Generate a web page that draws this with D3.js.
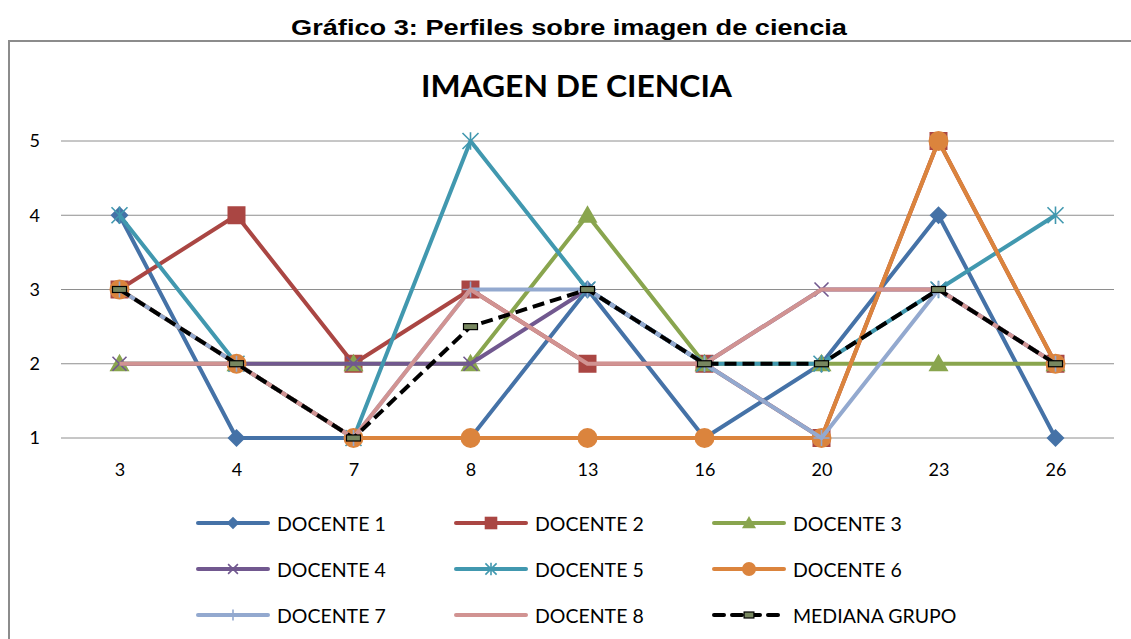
<!DOCTYPE html>
<html>
<head>
<meta charset="utf-8">
<script src="https://cdn.jsdelivr.net/npm/d3@7"></script>
<style>
  body { margin: 0; background: #fff; }
  svg { display: block; }
</style>
</head>
<body>
<div id="container"></div>
<script>
// categories and values
const categories = ["3", "4", "7", "8", "13", "16", "20", "23", "26"];
const yTicks = [1, 2, 3, 4, 5];

const docente1 = [4, 1, 1, 1, 3, 1, 2, 4, 1];
const docente2 = [3, 4, 2, 3, 2, 2, 1, 5, 2];
const docente3 = [2, 2, 2, 2, 4, 2, 2, 2, 2];
const docente4 = [2, 2, 2, 2, 3, 2, 3, 3, 2];
const docente5 = [4, 2, 1, 5, 3, 2, 2, 3, 4];
const docente6 = [3, 2, 1, 1, 1, 1, 1, 5, 2];
const docente7 = [3, 2, 1, 3, 3, 2, 1, 3, 2];
const docente8 = [2, 2, 1, 3, 2, 2, 3, 3, 2];
const mediana = [3, 2, 1, 2.5, 3, 2, 2, 3, 2];

const seriesNames = ["DOCENTE 1", "DOCENTE 2", "DOCENTE 3", "DOCENTE 4", "DOCENTE 5",
  "DOCENTE 6", "DOCENTE 7", "DOCENTE 8", "MEDIANA GRUPO"];

const series = [
  { name: seriesNames[0], values: docente1, color: "#4572A7", marker: "diamond" },
  { name: seriesNames[1], values: docente2, color: "#AA4643", marker: "square" },
  { name: seriesNames[2], values: docente3, color: "#89A54E", marker: "triangle" },
  { name: seriesNames[3], values: docente4, color: "#71588F", marker: "x" },
  { name: seriesNames[4], values: docente5, color: "#4198AF", marker: "star" },
  { name: seriesNames[5], values: docente6, color: "#DB843D", marker: "circle" },
  { name: seriesNames[6], values: docente7, color: "#93A9CF", marker: "plus" },
  { name: seriesNames[7], values: docente8, color: "#D19392", marker: "none" },
  { name: seriesNames[8], values: mediana, color: "#000000", marker: "dash" }
];

const width = 1131, height = 639;
const svg = d3.select("#container").append("svg")
  .attr("width", width).attr("height", height);

// page title (the picture is a bit stretched sideways, hence textLength)
svg.append("text")
  .attr("x", 291).attr("y", 35)
  .attr("textLength", 556)
  .attr("lengthAdjust", "spacingAndGlyphs")
  .style("font-family", "'Liberation Sans', Arial, sans-serif")
  .style("font-weight", "bold")
  .style("font-size", "22px")
  .text("Gráfico 3: Perfiles sobre imagen de ciencia");

// chart frame
svg.append("path")
  .attr("d", "M9,639 V41 H1131")
  .attr("fill", "none")
  .attr("stroke", "#8c8c8c")
  .attr("stroke-width", 2);

svg.append("text")
  .attr("x", 421).attr("y", 97)
  .attr("textLength", 311)
  .attr("lengthAdjust", "spacingAndGlyphs")
  .style("font-family", "Lato, 'Open Sans', sans-serif")
  .style("font-weight", "bold")
  .style("font-size", "30px")
  .text("IMAGEN DE CIENCIA");

const x = d3.scalePoint().domain(categories).range([61, 1114]).padding(0.5);
const y = d3.scaleLinear().domain([1, 5]).range([438, 141]);

// gridlines
svg.append("g")
  .selectAll("line")
  .data(yTicks)
  .join("line")
  .attr("x1", 61).attr("x2", 1114)
  .attr("y1", d => y(d)).attr("y2", d => y(d))
  .attr("stroke", "#8e8e8e")
  .attr("stroke-width", 1);

const labelFont = "Lato, 'Open Sans', sans-serif";

// y axis labels
const yAxis = d3.axisLeft(y).tickValues(yTicks).tickFormat(d3.format("d"))
  .tickSize(0).tickPadding(0);
svg.append("g")
  .attr("transform", "translate(40,0)")
  .call(yAxis)
  .call(g => g.select(".domain").remove())
  .selectAll("text")
  .style("font-family", labelFont)
  .style("font-size", "18px")
  .attr("fill", "#000");

// x axis labels
const xAxis = d3.axisBottom(x).tickSize(0).tickPadding(25);
svg.append("g")
  .attr("transform", "translate(0,438)")
  .call(xAxis)
  .call(g => g.select(".domain").remove())
  .selectAll("text")
  .style("font-family", labelFont)
  .style("font-size", "18px")
  .attr("fill", "#000");

function drawMarker(g, type, color, cx, cy, scale) {
  const s = scale || 1;
  if (type === "diamond") {
    const r = 9 * s;
    g.append("path")
      .attr("d", `M${cx},${cy - r} L${cx + r},${cy} L${cx},${cy + r} L${cx - r},${cy} Z`)
      .attr("fill", color);
  } else if (type === "square") {
    const r = 9 * s;
    g.append("rect")
      .attr("x", cx - r).attr("y", cy - r).attr("width", 2 * r).attr("height", 2 * r)
      .attr("fill", color);
  } else if (type === "triangle") {
    const r = 10 * s;
    g.append("path")
      .attr("d", `M${cx},${cy - r} L${cx + r},${cy + r * 0.75} L${cx - r},${cy + r * 0.75} Z`)
      .attr("fill", color);
  } else if (type === "circle") {
    g.append("circle").attr("cx", cx).attr("cy", cy).attr("r", 10 * s)
      .attr("fill", color);
  } else if (type === "x") {
    const r = 7 * s;
    g.append("path")
      .attr("d", `M${cx - r},${cy - r} L${cx + r},${cy + r} M${cx - r},${cy + r} L${cx + r},${cy - r}`)
      .attr("stroke", color).attr("stroke-width", 1.6);
  } else if (type === "star") {
    const r = 8 * s;
    g.append("path")
      .attr("d", `M${cx - r},${cy - r} L${cx + r},${cy + r} M${cx - r},${cy + r} L${cx + r},${cy - r} M${cx},${cy - r * 1.1} L${cx},${cy + r * 1.1}`)
      .attr("stroke", color).attr("stroke-width", 1.6);
  } else if (type === "plus") {
    const r = 8 * s;
    g.append("path")
      .attr("d", `M${cx - r},${cy} L${cx + r},${cy} M${cx},${cy - r} L${cx},${cy + r}`)
      .attr("stroke", color).attr("stroke-width", 1.6);
  } else if (type === "dash") {
    g.append("rect")
      .attr("x", cx - 7 * s).attr("y", cy - 3).attr("width", 14 * s).attr("height", 6)
      .attr("fill", "#77875F").attr("stroke", "#000").attr("stroke-width", 1.2);
  }
}

const line = d3.line()
  .x((d, i) => x(categories[i]))
  .y(d => y(d));

const plot = svg.append("g");
series.forEach(s => {
  const g = plot.append("g");
  const isMed = s.marker === "dash";
  g.append("path")
    .datum(s.values)
    .attr("d", line)
    .attr("fill", "none")
    .attr("stroke", s.color)
    .attr("stroke-width", 4)
    .attr("stroke-linejoin", "round")
    .attr("stroke-dasharray", isMed ? "12,6" : null);
  s.values.forEach((v, i) => drawMarker(g, s.marker, s.color, x(categories[i]), y(v)));
});

// legend
const legendCols = [198, 456, 714];
const legendRows = [523, 569, 615];
const legend = svg.append("g");
series.forEach((s, i) => {
  const lx = legendCols[i % 3], ly = legendRows[Math.floor(i / 3)];
  const g = legend.append("g");
  const isMed = s.marker === "dash";
  g.append("line")
    .attr("x1", lx).attr("x2", lx + 70)
    .attr("y1", ly).attr("y2", ly)
    .attr("stroke", s.color)
    .attr("stroke-width", 4)
    .attr("stroke-linecap", "round")
    .attr("stroke-dasharray", isMed ? "10,8" : null);
  drawMarker(g, s.marker, s.color, lx + 35, ly, 0.7);
  g.append("text")
    .attr("x", lx + 79).attr("y", ly + 8)
    .style("font-family", labelFont)
    .style("font-size", "19.5px")
    .text(s.name);
});
</script>
</body>
</html>
